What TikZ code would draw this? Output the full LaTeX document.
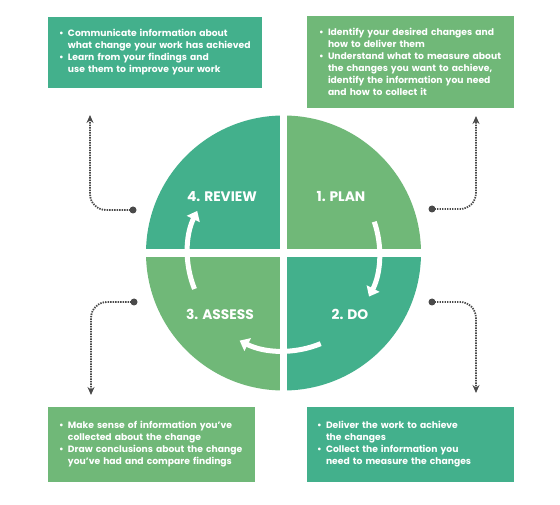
\documentclass[tikz,border=0pt]{standalone}
\usepackage{fontspec}
\setmainfont{Poppins}
\usetikzlibrary{arrows.meta}
\definecolor{cteal}{HTML}{43B08C}
\definecolor{cgreen}{HTML}{70B878}
\definecolor{cdark}{HTML}{4A4A4A}
\newcommand\bul{\makebox[9pt][l]{•}}
\newcommand\ind{\hspace*{9pt}}
\tikzset{
  box/.style={rectangle, inner ysep=0pt, align=left, text=white,
    font=\bfseries\fontsize{9.2}{12}\selectfont},
  qlabel/.style={text=white, inner sep=0pt, font=\bfseries\fontsize{13.8}{15}\selectfont},
  cyc/.style={white, line width=5pt, -{Triangle[length=9pt,width=14pt]}},
  conn/.style={draw=cdark, line width=1.8pt, dash pattern=on 1.4pt off 1.1pt,
    rounded corners=16pt, -{Stealth[length=8pt,width=7pt]}},
  dotend/.style={circle, fill=cdark, inner sep=0pt, minimum size=7pt},
}
\begin{document}
\begin{tikzpicture}[x=1pt,y=-1pt]
\useasboundingbox[fill=white] (0,0) rectangle (560,505);
% wheel
\coordinate (ctr) at (283.5,253);
\fill[cgreen] (ctr) -- ++(0,-137.5) arc[start angle=-90,end angle=0,radius=137.5] -- cycle;
\fill[cteal] (ctr) -- ++(137.5,0) arc[start angle=0,end angle=90,radius=137.5] -- cycle;
\fill[cgreen] (ctr) -- ++(0,137.5) arc[start angle=90,end angle=180,radius=137.5] -- cycle;
\fill[cteal] (ctr) -- ++(-137.5,0) arc[start angle=180,end angle=270,radius=137.5] -- cycle;
\draw[white, line width=7pt] ([yshift=-140pt]ctr) -- ([yshift=140pt]ctr);
\draw[white, line width=7.5pt] ([xshift=-140pt]ctr) -- ([xshift=140pt]ctr);
% labels
\node[qlabel] (review) at (222,197) {4. REVIEW};
\node[qlabel] (plan) at (341,197) {1. PLAN};
\node[qlabel] (assess) at (220,314) {3. ASSESS};
\node[qlabel] (do) at (350,314) {2. DO};
% cycle arrows
\draw[cyc] (ctr) ++(-19:96) arc[start angle=-19,end angle=27,radius=96];
\draw[cyc] (ctr) ++(67.7:98) arc[start angle=67.7,end angle=116.6,radius=98];
\draw[cyc] (ctr) ++(158:96) arc[start angle=158,end angle=206,radius=96];
% boxes
\node[box, fill=cteal, minimum width=214pt, minimum height=71pt, text width=192pt, inner xsep=11pt] (tlbox) at (155,52.5)
  {\bul Communicate information about\\ \ind what change your work has achieved\\ \bul Learn from your findings and\\ \ind use them to improve your work};
\node[box, fill=cgreen, minimum width=207pt, minimum height=92pt, text width=183pt, inner xsep=12pt] (trbox) at (410.5,62)
  {\bul Identify your desired changes and\\ \ind how to deliver them\\ \bul Understand what to measure about\\ \ind the changes you want to achieve,\\ \ind identify the information you need\\ \ind and how to collect it};
\node[box, fill=cgreen, minimum width=207pt, minimum height=75pt, text width=185pt, inner xsep=11pt] (blbox) at (151.5,444.5)
  {\bul Make sense of information you’ve\\ \ind collected about the change\\ \bul Draw conclusions about the change\\ \ind you’ve had and compare findings};
\node[box, fill=cteal, minimum width=207pt, minimum height=75pt, text width=187pt, inner xsep=10pt] (brbox) at (410.5,444.5)
  {\bul Deliver the work to achieve\\ \ind the changes\\ \bul Collect the information you\\ \ind need to measure the changes};
% connectors
\coordinate (d1) at (133,210); \coordinate (t1) at (90,115);
\coordinate (d2) at (432,209); \coordinate (t2) at (476,116);
\coordinate (d3) at (134,302); \coordinate (t3) at (91,395);
\coordinate (d4) at (432,302); \coordinate (t4) at (476,393);
\draw[conn] (d1) -| (t1);
\draw[conn] (d2) -| (t2);
\draw[conn] (d3) -| (t3);
\draw[conn] (d4) -| (t4);
\node[dotend] (e1) at (d1) {};
\node[dotend] (e2) at (d2) {};
\node[dotend] (e3) at (d3) {};
\node[dotend] (e4) at (d4) {};
\end{tikzpicture}
\end{document}
